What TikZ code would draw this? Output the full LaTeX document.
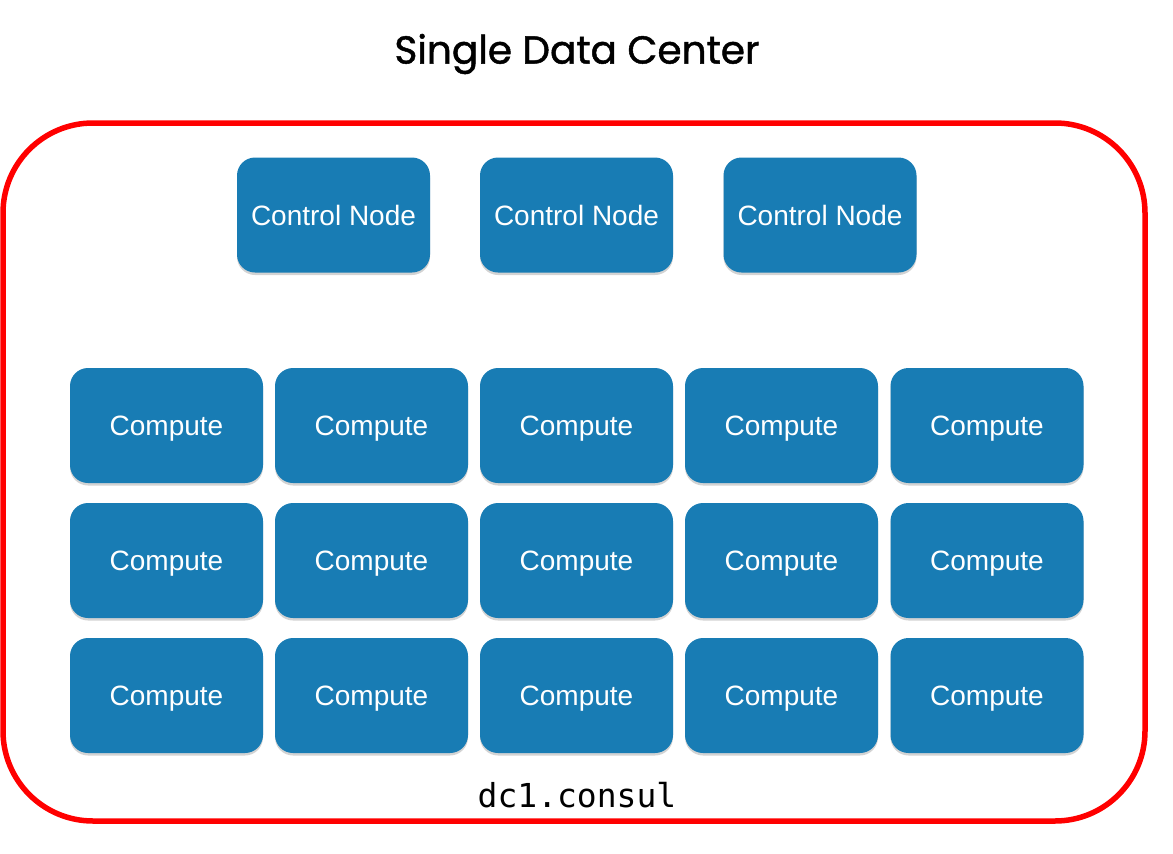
\documentclass[tikz,border=0pt]{standalone}
\usepackage{fontspec}
\usepackage{tikz}
\usepackage{xcolor}
\usetikzlibrary{shadows}
\newfontfamily\boxfont{Liberation Sans}
\newfontfamily\titlefont[FakeBold=1.2]{Poppins}
\newfontfamily\dcfont{DejaVu Sans Mono}
\definecolor{nodeblue}{RGB}{24,124,180}
\definecolor{dcred}{RGB}{255,0,0}
\tikzstyle{dcbox}=[
  minimum width=193pt,minimum height=115pt,inner sep=0pt,
  rounded corners=18pt,fill=nodeblue,text=white,text depth=0pt,
  font=\boxfont\fontsize{28}{32}\selectfont,
  drop shadow={opacity=0.35,shadow xshift=0pt,shadow yshift=-2.5pt}]
\tikzstyle{ctrl}=[dcbox]
\tikzstyle{compute}=[dcbox]

\begin{document}
\begin{tikzpicture}[x=1pt,y=-1pt]
\useasboundingbox (0,0) rectangle (1173,854);
\node[font=\titlefont\fontsize{39}{44}\selectfont] (title) at (577,54) {Single Data Center};
\draw[dcred,line width=5.5pt,rounded corners=90pt] (3,123) rectangle (1145,821);
% control nodes
\node[ctrl] (C1) at (333.5,215) {Control Node};
\node[ctrl] (C2) at (576.5,215) {Control Node};
\node[ctrl] (C3) at (820,215) {Control Node};
% compute grid
\foreach \r/\y in {1/425.5,2/560.5,3/695.5}
  \foreach \c/\x in {1/166.5,2/371.5,3/576.5,4/781.5,5/987}
    \node[compute] (P\r\c) at (\x,\y) {Compute};
\node[font=\dcfont\fontsize{33}{38}\selectfont] (dc) at (577,795) {dc1.consul};
\end{tikzpicture}
\end{document}
